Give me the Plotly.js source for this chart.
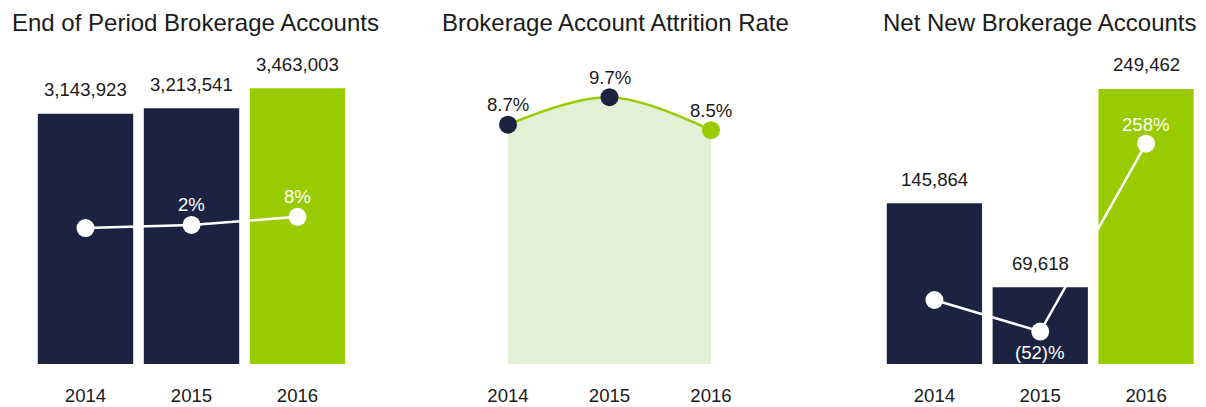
<!DOCTYPE html>
<html>
<head>
<meta charset="utf-8">
<script src="https://cdn.plot.ly/plotly-3.0.1.min.js"></script>
<style>html,body{margin:0;padding:0;background:#fff;}#chart{width:1206px;height:407px;}</style>
</head>
<body>
<div id="chart"></div>
<script>
// ---- data ----
const years = ['2014', '2015', '2016'];
const endAccounts = [3143923, 3213541, 3463003];
const endGrowth = [0, 2.2, 7.8];
const endGrowthLabels = ['', '2%', '8%'];
const attritionRate = [8.7, 9.7, 8.5];
const netNewAccounts = [145864, 69618, 249462];
const netGrowth = [0, -52, 258];
const netGrowthLabels = ['', '(52)%', '258%'];
const titles = ['End of Period Brokerage Accounts', 'Brokerage Account Attrition Rate', 'Net New Brokerage Accounts'];

// ---- style ----
const NAVY = '#1b2340';
const GREEN = '#99cc00';
const LIGHT = '#e2f0d6';
const TXT = '#1a1a1a';
const FONT = 'Liberation Sans, Arial, sans-serif';
const W = 1206, H = 407;
const px = v => v / W;
const py = v => (H - v) / H; // pixel from top -> paper fraction
const barColors = [NAVY, NAVY, GREEN];
const LBL = 18.6, TTL = 24;

const yDom = [py(364), py(40)];

const traces = [
  {type: 'bar', x: years, y: endAccounts, xaxis: 'x', yaxis: 'y', width: 0.9,
   marker: {color: barColors}, hoverinfo: 'none'},
  {type: 'scatter', mode: 'lines+markers', x: years, y: endGrowth, xaxis: 'x', yaxis: 'y4',
   line: {color: '#ffffff', width: 2.5}, marker: {color: '#ffffff', size: 18}, hoverinfo: 'none'},
  {type: 'scatter', mode: 'lines+markers', x: years, y: attritionRate, xaxis: 'x2', yaxis: 'y2',
   fill: 'tozeroy', fillcolor: LIGHT, line: {color: GREEN, width: 2.5, shape: 'spline'},
   marker: {color: barColors, size: 18}, hoverinfo: 'none'},
  {type: 'bar', x: years, y: netNewAccounts, xaxis: 'x3', yaxis: 'y3', width: 0.9,
   marker: {color: barColors}, hoverinfo: 'none'},
  {type: 'scatter', mode: 'lines+markers', x: years, y: netGrowth, xaxis: 'x3', yaxis: 'y5',
   line: {color: '#ffffff', width: 2.5}, marker: {color: '#ffffff', size: 18}, hoverinfo: 'none'}
];

const fmt = n => n.toLocaleString('en-US');
const annotations = [];
years.forEach((yr, i) => {
  annotations.push({xref: 'x', yref: 'y', x: i, y: endAccounts[i], text: fmt(endAccounts[i]),
    showarrow: false, yshift: 24, font: {size: LBL, color: TXT}});
  if (endGrowthLabels[i]) annotations.push({xref: 'x', yref: 'y4', x: i, y: endGrowth[i], text: endGrowthLabels[i],
    showarrow: false, yshift: 20, font: {size: LBL, color: '#ffffff'}});
  annotations.push({xref: 'x2', yref: 'y2', x: i, y: attritionRate[i], text: attritionRate[i].toFixed(1) + '%',
    showarrow: false, yshift: 20, font: {size: LBL, color: TXT}});
  annotations.push({xref: 'x3', yref: 'y3', x: i, y: netNewAccounts[i], text: fmt(netNewAccounts[i]),
    showarrow: false, yshift: 24, font: {size: LBL, color: TXT}});
  if (netGrowthLabels[i]) annotations.push({xref: 'x3', yref: 'y5', x: i, y: netGrowth[i], text: netGrowthLabels[i],
    showarrow: false, yshift: netGrowth[i] < 0 ? -21 : 19, font: {size: LBL, color: '#ffffff'}});
});
annotations.push({xref: 'paper', yref: 'paper', x: px(10), y: py(22), xanchor: 'left', yanchor: 'middle',
  text: titles[0], showarrow: false, font: {size: TTL, color: TXT}});
annotations.push({xref: 'paper', yref: 'paper', x: px(615.5), y: py(22), xanchor: 'center', yanchor: 'middle',
  text: titles[1], showarrow: false, font: {size: TTL, color: TXT}});
annotations.push({xref: 'paper', yref: 'paper', x: px(1040), y: py(22), xanchor: 'center', yanchor: 'middle',
  text: titles[2], showarrow: false, font: {size: TTL, color: TXT}});

const xBase = {type: 'category', range: [-0.5, 2.5], showgrid: false, zeroline: false, showline: false,
  ticks: '', tickfont: {size: LBL, color: TXT}, ticklabelstandoff: 18, fixedrange: true};
const yBase = {showgrid: false, zeroline: false, showline: false, showticklabels: false, ticks: '', fixedrange: true};

const layout = {
  width: W, height: H, margin: {l: 0, r: 0, t: 0, b: 0},
  paper_bgcolor: '#fff', plot_bgcolor: 'rgba(0,0,0,0)',
  font: {family: FONT, color: TXT}, showlegend: false,
  xaxis: Object.assign({}, xBase, {domain: [px(32.5), px(350.5)], anchor: 'y'}),
  yaxis: Object.assign({}, yBase, {domain: yDom, range: [0, 4070000], anchor: 'x'}),
  yaxis4: Object.assign({}, yBase, {overlaying: 'y', anchor: 'x', range: [-95.1, 131.5]}),
  xaxis2: Object.assign({}, xBase, {domain: [px(457.25), px(761.75)], anchor: 'y2'}),
  yaxis2: Object.assign({}, yBase, {domain: yDom, range: [0, 11.78], anchor: 'x2'}),
  xaxis3: Object.assign({}, xBase, {domain: [px(881.5), px(1199)], anchor: 'y3'}),
  yaxis3: Object.assign({}, yBase, {domain: yDom, range: [0, 293900], anchor: 'x3'}),
  yaxis5: Object.assign({}, yBase, {overlaying: 'y3', anchor: 'x3', range: [-105.6, 429]}),
  annotations: annotations
};

Plotly.newPlot('chart', traces, layout, {staticPlot: true, displayModeBar: false});
</script>
</body>
</html>
